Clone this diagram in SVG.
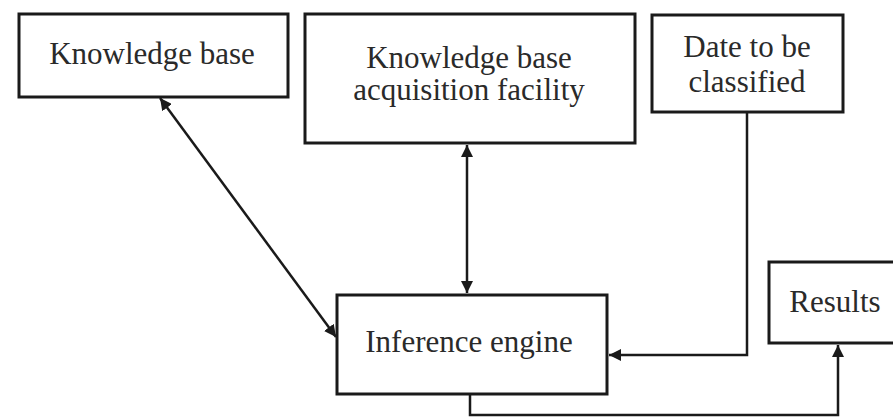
<svg xmlns="http://www.w3.org/2000/svg" width="893" height="417" viewBox="0 0 893 417">
<defs>
<style>
.box{fill:#fff;stroke:#1a1a1a;stroke-width:3}
.lbl{font-family:"Liberation Serif","Times New Roman",serif;font-size:31px;fill:#2a2a2a;text-anchor:middle}
.conn{fill:none;stroke:#1a1a1a;stroke-width:2.5}
</style>
<marker id="ah" viewBox="0 0 10 10" refX="10" refY="5" markerWidth="12" markerHeight="12" markerUnits="userSpaceOnUse" orient="auto-start-reverse">
<path d="M0,0 L10,5 L0,10 Z" fill="#1a1a1a"/>
</marker>
</defs>
<rect width="893" height="417" fill="#fff"/>
<g id="connectors">
<line class="conn" x1="160" y1="98" x2="336" y2="337" marker-start="url(#ah)" marker-end="url(#ah)"/>
<line class="conn" x1="467" y1="145" x2="467" y2="293" marker-start="url(#ah)" marker-end="url(#ah)"/>
<polyline class="conn" points="747,113 747,355 609,355" marker-end="url(#ah)"/>
<polyline class="conn" points="470,395 470,415 838,415 838,345" marker-end="url(#ah)"/>
</g>
<g id="knowledge-base">
<rect class="box" x="19" y="14" width="269" height="83"/>
<text class="lbl" x="152" y="64">Knowledge base</text>
</g>
<g id="acquisition-facility">
<rect class="box" x="305" y="14" width="330" height="129"/>
<text class="lbl" x="469" y="68">Knowledge base</text>
<text class="lbl" x="469" y="100">acquisition facility</text>
</g>
<g id="data-to-classify">
<rect class="box" x="652" y="15" width="191" height="97"/>
<text class="lbl" x="747" y="57">Date to be</text>
<text class="lbl" x="747" y="92">classified</text>
</g>
<g id="inference-engine">
<rect class="box" x="337" y="295" width="270" height="99"/>
<text class="lbl" x="469" y="352">Inference engine</text>
</g>
<g id="results">
<rect class="box" x="769" y="262" width="134" height="81"/>
<text class="lbl" x="835" y="312">Results</text>
</g>
</svg>
